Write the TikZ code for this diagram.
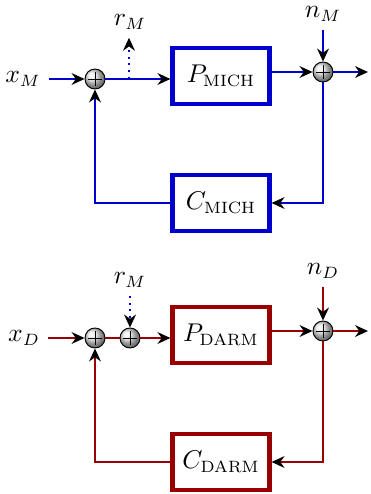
\documentclass[tikz,border=0pt]{standalone}
\usepackage{amsmath}
\usetikzlibrary{arrows.meta}

\begin{document}
\begin{tikzpicture}[x=0.015cm, y=-0.015cm, font=\fontsize{10.5}{12}\selectfont,
  >={Stealth[length=5.5pt, width=5pt, black]},
  mblue/.style={draw=blue!80!black, line width=0.9pt},
  mred/.style={draw=red!60!black, line width=0.9pt},
  sum/.style={circle, draw=black, thin, ball color=gray!20, minimum size=0.3cm, inner sep=0pt,
    path picture={\draw[black, thin] (path picture bounding box.center) +(-0.11cm,0) -- +(0.11cm,0)
      (path picture bounding box.center) +(0,-0.11cm) -- +(0,0.11cm);}},
  blk/.style={draw, line width=1.9pt, fill=white, minimum width=1.45cm, minimum height=0.84cm}]
  \useasboundingbox (0,0) rectangle (370,494);

  % MICH loop
  \node (xm) at (23,79) {$x_M$};
  \node[sum] (s1) at (95,79) {};
  \node[blk, draw=blue!80!black] (pm) at (221,76) {$P_{\mathrm{MICH}}$};
  \node[sum] (s2) at (323,72) {};
  \node (nm) at (323,14) {$n_M$};
  \node (rm) at (130,22) {$r_M$};
  \node[blk, draw=blue!80!black] (cm) at (221,203) {$C_{\mathrm{MICH}}$};
  \coordinate (b1) at (129,79);
  \coordinate (om) at (368,72);

  \draw[mblue, ->] (xm) -- (s1);
  \draw[mblue, ->] (s1) -- (s1 -| pm.west);
  \draw[mblue, dotted, ->] (b1) -- (b1 |- rm.south);
  \draw[mblue, ->] (pm.east |- s2) -- (s2);
  \draw[mblue, ->] (nm) -- (s2);
  \draw[mblue, ->] (s2) -- (om);
  \draw[mblue, ->] (s2) |- (cm);
  \draw[mblue, ->] (cm) -| (s1);

  % DARM loop
  \node (xd) at (24,338) {$x_D$};
  \node[sum] (s3) at (95,338) {};
  \node[sum] (s4) at (130,338) {};
  \node (rd) at (130,280) {$r_M$};
  \node[blk, draw=red!60!black] (pd) at (221,335) {$P_{\mathrm{DARM}}$};
  \node[sum] (s5) at (323,331) {};
  \node (nd) at (323,271) {$n_D$};
  \node[blk, draw=red!60!black] (cd) at (221,462) {$C_{\mathrm{DARM}}$};
  \coordinate (od) at (368,331);

  \draw[mred, ->] (xd) -- (s3);
  \draw[mred] (s3) -- (s4);
  \draw[mred, ->] (s4) -- (s4 -| pd.west);
  \draw[mblue, dotted, ->] (rd) -- (s4);
  \draw[mred, ->] (pd.east |- s5) -- (s5);
  \draw[mred, ->] (nd) -- (s5);
  \draw[mred, ->] (s5) -- (od);
  \draw[mred, ->] (s5) |- (cd);
  \draw[mred, ->] (cd) -| (s3);
\end{tikzpicture}
\end{document}
